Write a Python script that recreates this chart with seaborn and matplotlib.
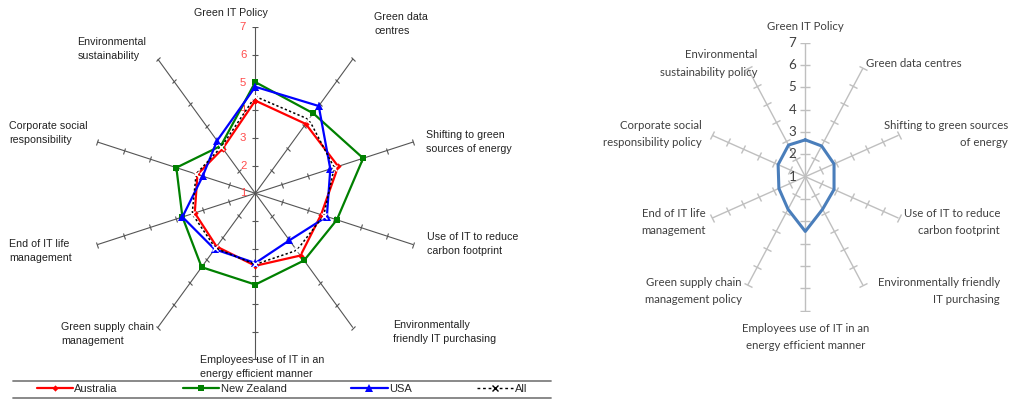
import numpy as np
import pandas as pd
import matplotlib
matplotlib.use("Agg")
import matplotlib.pyplot as plt
from matplotlib.lines import Line2D
from matplotlib.markers import MarkerStyle
from matplotlib.transforms import Affine2D
import seaborn as sns

sns.set_theme(style="white")
plt.rcParams["font.family"] = ["Liberation Sans", "DejaVu Sans"]

# ---- Regional comparison (mean scores, 1-7 scale) ----
factors_region = [
    "Green IT Policy",
    "Green data\ncentres",
    "Shifting to green\nsources of energy",
    "Use of IT to reduce\ncarbon footprint",
    "Environmentally\nfriendly IT purchasing",
    "Employees use of IT in an\nenergy efficient manner",
    "Green supply chain\nmanagement",
    "End of IT life\nmanagement",
    "Corporate social\nresponsibility",
    "Environmental\nsustainability",
]
australia = [4.35, 4.1, 4.15, 3.5, 3.78, 3.62, 3.38, 3.3, 3.2, 3.0]
new_zealand = [5.02, 4.57, 5.1, 4.1, 4.0, 4.3, 4.3, 3.77, 4.0, 3.12]
usa = [4.85, 4.9, 3.85, 3.72, 3.1, 3.52, 3.5, 3.77, 3.0, 3.35]
all_respondents = [4.5, 4.3, 4.0, 3.6, 3.55, 3.57, 3.45, 3.4, 3.25, 3.08]

# ---- Overall policy adoption ----
factors_policy = [
    "Green IT Policy",
    "Green data centres",
    "Shifting to green sources\nof energy",
    "Use of IT to reduce\ncarbon footprint",
    "Environmentally friendly\nIT purchasing",
    "Employees use of IT in an\nenergy efficient manner",
    "Green supply chain\nmanagement policy",
    "End of IT life\nmanagement",
    "Corporate social\nresponsibility policy",
    "Environmental\nsustainability policy",
]
policy_scores = [2.65, 2.7, 2.85, 2.85, 2.8, 3.45, 2.8, 2.7, 2.75, 2.75]

scale_ticks = [1, 2, 3, 4, 5, 6, 7]
SCALE_MIN, SCALE_MAX = scale_ticks[0], scale_ticks[-1]

POLICY_FONT, POLICY_SIZE, POLICY_LS = "Lato", 8.2, 1.7

W, H = 1018, 401
fig = plt.figure(figsize=(W / 100, H / 100), dpi=100)
fig.patch.set_facecolor("white")


def px_axes(cx, cy, rx, ry):
    """Axes whose [-R, R] box is centred on pixel (cx, cy)."""
    ax = fig.add_axes([(cx - rx) / W, (H - cy - ry) / H, 2 * rx / W, 2 * ry / H])
    ax.set_aspect("auto")
    ax.axis("off")
    return ax


def polygon_frame(values, name):
    n = len(values)
    idx = list(range(n)) + [0]
    theta = np.array(idx) * 2 * np.pi / n
    r = np.asarray(values, dtype=float)[idx] - SCALE_MIN
    return pd.DataFrame({"series": name, "x": r * np.sin(theta), "y": r * np.cos(theta)})


def draw_spokes(ax, n, rx, ry, color, lw, tick_ms):
    rmax = SCALE_MAX - SCALE_MIN
    rr = np.arange(1, rmax + 1)
    for k in range(n):
        th = 2 * np.pi * k / n
        ax.plot([0, rmax * np.sin(th)], [0, rmax * np.cos(th)], color=color, lw=lw,
                zorder=1, solid_capstyle="butt")
        phi = np.degrees(np.arctan2(ry * np.cos(th), rx * np.sin(th)))
        m = MarkerStyle("|", transform=Affine2D().rotate_deg(phi))
        ax.plot(rr * np.sin(th), rr * np.cos(th), ls="none", marker=m, ms=tick_ms,
                mec=color, mew=lw, zorder=1)


def set_limits(ax):
    rmax = SCALE_MAX - SCALE_MIN
    ax.set_xlim(-rmax, rmax)
    ax.set_ylim(-rmax, rmax)


def px_text(x, y, s, **kw):
    fig.text(x / W, 1 - y / H, s, **kw)


# =================== left chart ===================
L_CX, L_CY, L_R = 255.3, 193.3, 166.0
axL = px_axes(L_CX, L_CY, L_R, L_R)
draw_spokes(axL, len(factors_region), L_R, L_R, "#555555", 0.8, 4.0)

series_styles = [
    (australia, "Australia", dict(color="#FF0000", lw=1.6, marker="D", ms=3.2, mew=0)),
    (new_zealand, "New Zealand", dict(color="#008000", lw=1.6, marker="s", ms=5, mew=0)),
    (usa, "USA", dict(color="#0000FF", lw=1.6, marker="^", ms=5.5, mew=0)),
    (all_respondents, "All", dict(color="#000000", lw=1.1, ls=(0, (1.5, 1.5)), marker="x",
                                   ms=4, mew=1.0)),
]
for vals, name, st in series_styles:
    df = polygon_frame(vals, name)
    sns.lineplot(data=df, x="x", y="y", sort=False, estimator=None, ax=axL,
                 legend=False, zorder=3, **st)
set_limits(axL)

for v in scale_ticks:
    axL.annotate(str(v), xy=(0, v - SCALE_MIN), xytext=(-6.5, 0), textcoords="offset points",
                 ha="right", va="center", fontsize=8.2, color="#FF4B4B", zorder=2)

left_label_pos = [
    (230.5, 12.7, "center"),
    (374.3, 24.2, "left"),
    (426.0, 141.5, "left"),
    (427.0, 244.2, "left"),
    (393.0, 332.2, "left"),
    (200.5, 367.0, "left"),
    (61.0, 333.7, "left"),
    (9.3, 251.2, "left"),
    (9.3, 133.0, "left"),
    (77.3, 48.9, "left"),
]
for lab, (x, y, ha) in zip(factors_region, left_label_pos):
    px_text(x, y, lab, ha=ha, va="center", fontsize=7.7, color="#222222", linespacing=1.5)

handles = [
    Line2D([], [], color="#FF0000", lw=1.6, marker="D", ms=3.2, mew=0),
    Line2D([], [], color="#008000", lw=1.6, marker="s", ms=5, mew=0),
    Line2D([], [], color="#0000FF", lw=1.6, marker="^", ms=5.5, mew=0),
    Line2D([], [], color="#000000", lw=1.0, ls=(0, (2, 2)), marker="x", ms=4, mew=1.0),
]
fig.legend(handles, [s[1] for s in series_styles], loc="center left",
           bbox_to_anchor=(36.5 / W, 1 - 389 / H), ncol=4, frameon=False,
           handlelength=3.25, handletextpad=0.15, columnspacing=5.85, borderpad=0,
           borderaxespad=0, fontsize=8.0)
for yy in (380.5, 397.5):
    fig.add_artist(Line2D([12.6 / W, 551 / W], [1 - yy / H] * 2, color="#808080", lw=1.3))

# =================== right chart ===================
R_CX, R_CY, R_RX, R_RY = 805.3, 176.7, 98.0, 134.0
axR = px_axes(R_CX, R_CY, R_RX, R_RY)
draw_spokes(axR, len(factors_policy), R_RX, R_RY, "#BFBFBF", 1.0, 7.0)
dfp = polygon_frame(policy_scores, "Overall")
sns.lineplot(data=dfp, x="x", y="y", sort=False, estimator=None, ax=axR, legend=False,
             color="#4A7EBB", lw=2.2, zorder=3)
set_limits(axR)

for v in scale_ticks:
    axR.annotate(str(v), xy=(0, v - SCALE_MIN), xytext=(-6.5, 0), textcoords="offset points",
                 ha="right", va="center", fontsize=9.6, color="#404040",
                 family=POLICY_FONT, zorder=2)

# (x, y-centre, horizontal anchor)
right_label_pos = [
    (805.3, 26.7, "center"),
    (866.0, 63.3, "left"),
    (1008.0, 134.0, "right"),
    (1000.0, 222.0, "right"),
    (1000.0, 291.0, "right"),
    (805.3, 337.0, "center"),
    (742.0, 291.0, "right"),
    (706.0, 222.0, "right"),
    (702.0, 134.0, "right"),
    (757.0, 63.5, "right"),
]
for lab, (x, y, ha) in zip(factors_policy, right_label_pos):
    px_text(x, y, lab, ha=ha, va="center", fontsize=POLICY_SIZE, color="#404040",
            family=POLICY_FONT, linespacing=POLICY_LS,
            multialignment="center" if ha == "center" else ha)

fig.savefig("out.png", dpi=100, facecolor="white")
